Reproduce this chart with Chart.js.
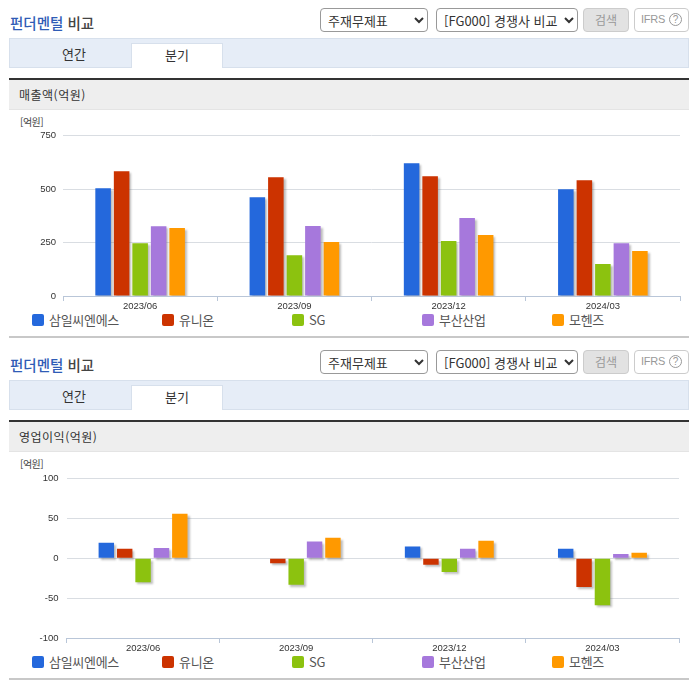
<!DOCTYPE html>
<html lang="ko">
<head>
<meta charset="utf-8">
<title>펀더멘털 비교</title>
<script src="https://cdn.jsdelivr.net/npm/chart.js@4"></script>
<style>
html, body { margin: 0; padding: 0; background: #fff; overflow: hidden; }
body { width: 696px; height: 684px; position: relative; font-family: "Noto Sans CJK KR", sans-serif; color: #333; }
.abs { position: absolute; box-sizing: border-box; white-space: nowrap; }
.title { left: 10px; font-size: 14.5px; font-weight: 500; line-height: 20px; color: #444; }
.title b { color: #2f5cb6; font-weight: 500; }
select { font: 13px "Noto Sans CJK KR", sans-serif; height: 24px; border: 1px solid #999; border-radius: 4px; background: #fff; color: #333; padding: 0 0 0 3px; }
.btn { height: 24px; border-radius: 4px; font-size: 12px; line-height: 21px; text-align: center; color: #999; }
.search { left: 583px; width: 46px; background: #e2e2e2; border: 1px solid #ccc; }
.ifrs { left: 634px; width: 55px; background: #fff; border: 1px solid #ccc; font-family: "Liberation Sans", sans-serif; font-size: 11px; letter-spacing: -.3px; }
.ifrs span { display: inline-block; width: 13px; height: 13px; line-height: 12px; margin-left: 4px; border: 1px solid #999; border-radius: 50%; font-size: 10px; box-sizing: border-box; vertical-align: 0; letter-spacing: 0; }
.tabbar { left: 9px; width: 680px; height: 30px; background: #e6edf7; border: 1px solid #d7e0ec; }
.tab { height: 25px; font-size: 13px; line-height: 21px; text-align: center; color: #333; }
.tab.on { left: 131px; width: 92px; background: #fff; border: 1px solid #d7e0ec; border-bottom: none; }
.head { left: 9px; width: 680px; height: 32px; background: #eee; border-top: 2px solid #333; border-bottom: 1px solid #e4e4e4; font-size: 12px; line-height: 29px; padding-left: 10px; letter-spacing: .5px; }
.unit { left: 20px; font-size: 10px; line-height: 12px; color: #444; letter-spacing: -.5px; }
.foot { left: 9px; width: 680px; height: 2px; background: #c8c8c8; }
.sw { width: 12px; height: 12px; border-radius: 2px; }
.lg { font-size: 13px; line-height: 16px; color: #555; letter-spacing: -.3px; }
canvas { position: absolute; left: 0; }
</style>
</head>
<body>
<script>
const categories = ['2023/06', '2023/09', '2023/12', '2024/03'];
const seriesNames = ['삼일씨엔에스', '유니온', 'SG', '부산산업', '모헨즈'];
const seriesColors = ['#2468dc', '#cc3300', '#8cc20f', '#a678dc', '#ff9900'];

// 매출액(억원)
const sales1 = [504, 462, 621, 500];
const sales2 = [584, 556, 560, 542];
const sales3 = [247, 191, 257, 150];
const sales4 = [326, 328, 365, 247];
const sales5 = [318, 253, 285, 211];
const salesTicks = [0, 250, 500, 750];

// 영업이익(억원)
const profit1 = [19.5, 0, 15, 12];
const profit2 = [12, -6, -8, -36];
const profit3 = [-30, -33, -17, -59];
const profit4 = [13, 21, 12, 5.5];
const profit5 = [56, 26, 22, 7];
const profitTicks = [-100, -50, 0, 50, 100];

// 막대 그림자
const barShadow = {
    id: 'barShadow',
    beforeDatasetsDraw(chart) {
        const ctx = chart.ctx;
        ctx.save();
        ctx.shadowColor = 'rgba(110, 110, 110, 0.45)';
        ctx.shadowOffsetX = 2;
        ctx.shadowOffsetY = 2;
        ctx.shadowBlur = 2;
    },
    afterDatasetsDraw(chart) {
        chart.ctx.restore();
    }
};

function addEl(cls, top, text, left) {
    const el = document.createElement('div');
    el.className = 'abs ' + cls;
    el.style.top = top + 'px';
    if (left !== undefined) el.style.left = left + 'px';
    if (text) el.textContent = text;
    document.body.appendChild(el);
    return el;
}

function addSelect(top, left, width, label) {
    const sel = document.createElement('select');
    sel.className = 'abs';
    sel.style.top = top + 'px';
    sel.style.left = left + 'px';
    sel.style.width = width + 'px';
    const opt = document.createElement('option');
    opt.textContent = label;
    sel.appendChild(opt);
    document.body.appendChild(sel);
}

function criarBloco(dy, headText, values, ticks, chartOpt) {
    const title = addEl('title', 13 + dy);
    title.innerHTML = '<b>펀더멘털</b> 비교';
    addSelect(8 + dy, 320, 108, '주재무제표');
    addSelect(8 + dy, 436, 142, '[FG000] 경쟁사 비교');
    addEl('btn search', 8 + dy, '검색');
    addEl('btn ifrs', 8 + dy).innerHTML = 'IFRS<span>?</span>';

    addEl('tabbar', 38 + dy);
    addEl('tab', 43 + dy, '연간', 28).style.width = '92px';
    addEl('tab on', 43 + dy, '분기');
    addEl('head', 78 + dy, headText);
    addEl('unit', 116 + dy, '[억원]');
    addEl('foot', 336 + dy);

    seriesNames.forEach((name, i) => {
        const left = 32 + i * 130;
        addEl('sw', 314 + dy, '', left).style.background = seriesColors[i];
        addEl('lg', 312 + dy, name, left + 17);
    });

    const canvas = document.createElement('canvas');
    canvas.style.top = (123 + dy) + 'px';
    canvas.style.width = '696px';
    canvas.style.height = '197px';
    canvas.width = 696;
    canvas.height = 197;
    document.body.appendChild(canvas);

    new Chart(canvas.getContext('2d'), {
        type: 'bar',
        plugins: [barShadow],
        data: {
            labels: categories,
            datasets: values.map((data, i) => ({
                label: seriesNames[i],
                data: data,
                backgroundColor: seriesColors[i],
                borderWidth: 0,
                categoryPercentage: 0.6,
                barPercentage: 0.84
            }))
        },
        options: {
            responsive: false,
            animation: false,
            devicePixelRatio: 1,
            layout: { padding: { top: chartOpt.top, right: 696 - chartOpt.right, left: 0, bottom: 0 } },
            plugins: {
                legend: { display: false },
                tooltip: { enabled: false }
            },
            scales: {
                x: {
                    afterFit(scale) { scale.height = chartOpt.xHeight; },
                    border: { color: '#b9c6d8' },
                    grid: { drawOnChartArea: false, drawTicks: true, tickLength: 5, color: '#b9c6d8', offset: true },
                    ticks: { color: '#333', font: { size: 9.5, family: 'Liberation Sans' }, padding: 0, maxRotation: 0 }
                },
                y: {
                    min: ticks[0],
                    max: ticks[ticks.length - 1],
                    afterFit(scale) { scale.width = chartOpt.left; },
                    afterBuildTicks(scale) { scale.ticks = ticks.map(v => ({ value: v })); },
                    border: { display: false },
                    grid: { color: '#d9dde2', drawTicks: false },
                    ticks: { color: '#333', font: { size: 9.5, family: 'Liberation Sans' }, padding: chartOpt.left === 63 ? 7 : 8 }
                }
            }
        }
    });
}

criarBloco(0, '매출액(억원)', [sales1, sales2, sales3, sales4, sales5], salesTicks,
    { top: 10, left: 63, right: 680, xHeight: 24 });
criarBloco(342, '영업이익(억원)', [profit1, profit2, profit3, profit4, profit5], profitTicks,
    { top: 10, left: 66.5, right: 679, xHeight: 24 });
</script>
</body>
</html>
